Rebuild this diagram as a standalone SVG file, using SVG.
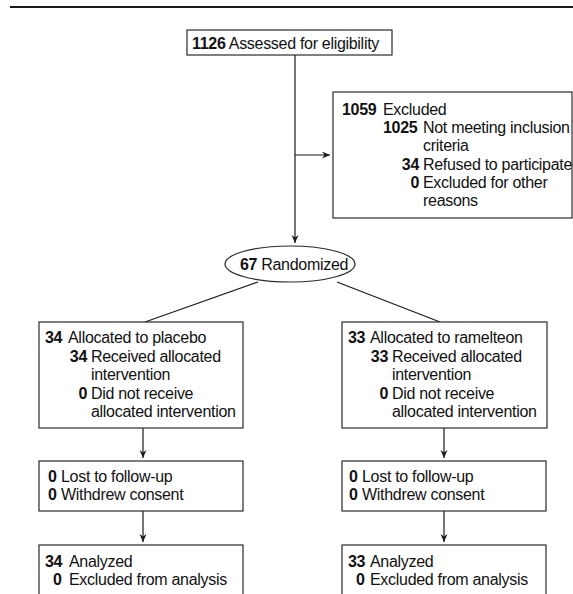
<svg xmlns="http://www.w3.org/2000/svg" width="573" height="594" viewBox="0 0 573 594">
<style>
.box{fill:#fff;stroke:#2a2a2a;stroke-width:1.2}
.ln{fill:none;stroke:#1a1a1a;stroke-width:1.2}
text{font-family:"Liberation Sans",Arial,sans-serif;font-size:16px;letter-spacing:-0.3px;fill:#111}
.b{font-weight:bold}
.e{text-anchor:end}
</style>
<defs>
<marker id="ah" markerUnits="userSpaceOnUse" markerWidth="10" markerHeight="10" refX="8" refY="3.5" orient="auto">
<path d="M0,0 L8,3.5 L0,7 L2.5,3.5 Z" fill="#1a1a1a"/>
</marker>
</defs>
<rect width="573" height="594" fill="#fff"/>
<line x1="10" y1="7" x2="573" y2="7" stroke="#1a1a1a" stroke-width="2"/>
<g id="connectors">
<path class="ln" d="M295,55 V243" marker-end="url(#ah)"/>
<path class="ln" d="M295,155 H330" marker-end="url(#ah)"/>
<path class="ln" d="M258,282 L145,322"/>
<path class="ln" d="M337,282 L440,322"/>
<path class="ln" d="M143,428 V458" marker-end="url(#ah)"/>
<path class="ln" d="M444,428 V458" marker-end="url(#ah)"/>
<path class="ln" d="M143,511 V542" marker-end="url(#ah)"/>
<path class="ln" d="M444,511 V542" marker-end="url(#ah)"/>
</g>
<g id="assessed">
<rect class="box" x="187" y="30" width="205" height="25"/>
<text x="192" y="48.5"><tspan class="b">1126</tspan> Assessed for eligibility</text>
</g>
<g id="excluded">
<rect class="box" x="333" y="92" width="239" height="126"/>
<text x="342" y="115" class="b">1059</text><text x="383" y="115">Excluded</text>
<text x="383" y="133" class="b">1025</text><text x="423" y="133">Not meeting inclusion</text>
<text x="423" y="151">criteria</text>
<text x="419" y="169.5" class="b e">34</text><text x="423" y="169.5">Refused to participate</text>
<text x="419" y="188" class="b e">0</text><text x="423" y="188">Excluded for other</text>
<text x="423" y="206">reasons</text>
</g>
<g id="randomized">
<ellipse class="box" cx="290" cy="264" rx="65" ry="18"/>
<text x="294" y="269.5" text-anchor="middle"><tspan class="b">67</tspan> Randomized</text>
</g>
<g id="alloc-placebo">
<rect class="box" x="39" y="322" width="204" height="106"/>
<text x="45" y="343" class="b">34</text><text x="68" y="343">Allocated to placebo</text>
<text x="87" y="361.5" class="b e">34</text><text x="91" y="361.5">Received allocated</text>
<text x="91" y="380">intervention</text>
<text x="87" y="398.5" class="b e">0</text><text x="91" y="398.5">Did not receive</text>
<text x="91" y="417">allocated intervention</text>
</g>
<g id="alloc-ramelteon">
<rect class="box" x="342" y="322" width="205" height="106"/>
<text x="348" y="343" class="b">33</text><text x="370" y="343">Allocated to ramelteon</text>
<text x="388" y="361.5" class="b e">33</text><text x="392" y="361.5">Received allocated</text>
<text x="392" y="380">intervention</text>
<text x="388" y="398.5" class="b e">0</text><text x="392" y="398.5">Did not receive</text>
<text x="392" y="417">allocated intervention</text>
</g>
<g id="followup-placebo">
<rect class="box" x="39" y="461" width="204" height="50"/>
<text x="48" y="482" class="b">0</text><text x="61" y="482">Lost to follow-up</text>
<text x="48" y="500" class="b">0</text><text x="61" y="500">Withdrew consent</text>
</g>
<g id="followup-ramelteon">
<rect class="box" x="342" y="461" width="204" height="50"/>
<text x="349" y="482" class="b">0</text><text x="362" y="482">Lost to follow-up</text>
<text x="349" y="500" class="b">0</text><text x="362" y="500">Withdrew consent</text>
</g>
<g id="analyzed-placebo">
<rect class="box" x="39" y="545" width="204" height="60"/>
<text x="45" y="567" class="b">34</text><text x="69" y="567">Analyzed</text>
<text x="53" y="585" class="b">0</text><text x="69" y="585">Excluded from analysis</text>
</g>
<g id="analyzed-ramelteon">
<rect class="box" x="342" y="545" width="204" height="60"/>
<text x="348" y="567" class="b">33</text><text x="370" y="567">Analyzed</text>
<text x="356" y="585" class="b">0</text><text x="370" y="585">Excluded from analysis</text>
</g>
</svg>
